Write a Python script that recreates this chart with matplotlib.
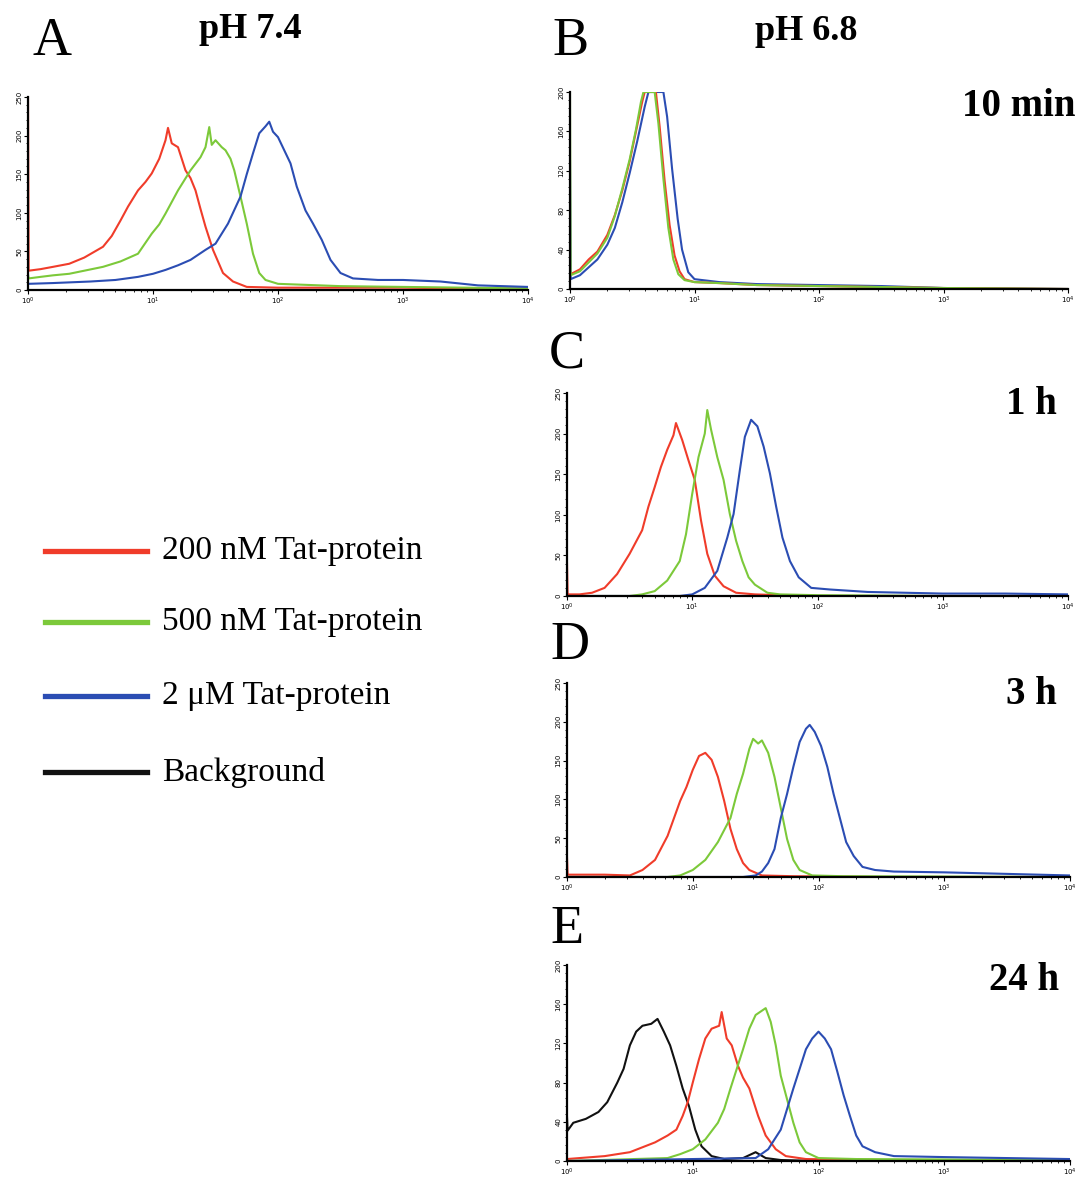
import numpy as np
import matplotlib
matplotlib.use("Agg")
import matplotlib.pyplot as plt
from matplotlib.ticker import MultipleLocator, LogLocator, LogFormatterMathtext
from matplotlib.lines import Line2D

# Colores
rojo = "#f03c2a"
verde = "#7cc93a"
azul = "#2b4db3"
negro = "#111111"

# Panel A (pH 7.4) - x en log10
a_red_lx = [0, 0.005, 0.1, 0.2, 0.33, 0.45, 0.6, 0.67, 0.74, 0.8, 0.88, 0.94, 0.99, 1.05, 1.1, 1.12, 1.15, 1.2, 1.26, 1.3, 1.34, 1.38, 1.42, 1.48, 1.56, 1.64, 1.75, 2.0, 2.5, 3.0, 3.5, 4.0]
a_red_y = [250, 25, 27, 30, 34, 42, 56, 70, 90, 108, 129, 140, 151, 170, 194, 210, 190, 185, 155, 145, 129, 105, 82, 52, 22, 11, 4, 3, 3, 3, 2, 2]
a_green_lx = [0, 0.005, 0.1, 0.2, 0.33, 0.45, 0.6, 0.74, 0.88, 0.99, 1.05, 1.1, 1.2, 1.3, 1.38, 1.42, 1.45, 1.47, 1.5, 1.55, 1.58, 1.62, 1.65, 1.7, 1.75, 1.8, 1.85, 1.9, 2.0, 2.5, 3.0, 3.5, 4.0]
a_green_y = [20, 15, 17, 19, 21, 25, 30, 37, 47, 73, 85, 99, 129, 155, 172, 185, 211, 188, 194, 185, 181, 170, 155, 121, 86, 47, 22, 13, 8, 5, 4, 3, 2]
a_blue_lx = [0, 0.005, 0.2, 0.5, 0.7, 0.88, 1.0, 1.1, 1.2, 1.3, 1.42, 1.5, 1.6, 1.7, 1.75, 1.8, 1.85, 1.9, 1.93, 1.96, 2.0, 2.05, 2.1, 2.15, 2.22, 2.28, 2.35, 2.42, 2.5, 2.6, 2.8, 3.0, 3.3, 3.6, 4.0]
a_blue_y = [8, 8, 9, 11, 13, 17, 21, 26, 32, 39, 52, 60, 86, 121, 150, 177, 203, 212, 218, 205, 198, 181, 164, 134, 103, 86, 65, 39, 22, 15, 13, 13, 11, 6, 4]

# Panel B (10 min)
b_red_lx = [0, 0.005, 0.08, 0.15, 0.22, 0.3, 0.36, 0.42, 0.48, 0.53, 0.58, 0.6, 0.69, 0.72, 0.76, 0.8, 0.84, 0.88, 0.92, 1.0, 1.2, 1.5, 2.0, 2.5, 3.0, 4.0]
b_red_y = [15, 15, 20, 30, 38, 55, 75, 100, 130, 160, 190, 200, 200, 165, 110, 65, 34, 18, 10, 7, 6, 4, 3, 2, 1, 0]
b_green_lx = [0, 0.005, 0.08, 0.15, 0.22, 0.3, 0.36, 0.42, 0.48, 0.53, 0.57, 0.59, 0.68, 0.71, 0.75, 0.79, 0.83, 0.87, 0.92, 1.0, 1.2, 1.5, 2.0, 2.5, 3.0, 4.0]
b_green_y = [200, 14, 18, 27, 36, 52, 74, 102, 132, 162, 190, 200, 200, 168, 112, 62, 30, 15, 9, 7, 6, 4, 3, 2, 1, 0]
b_blue_lx = [0, 0.005, 0.08, 0.15, 0.22, 0.3, 0.36, 0.42, 0.48, 0.54, 0.6, 0.63, 0.75, 0.78, 0.82, 0.865, 0.9, 0.95, 1.0, 1.2, 1.5, 2.0, 2.5, 3.0, 4.0]
b_blue_y = [130, 10, 14, 22, 30, 45, 62, 88, 118, 150, 185, 200, 200, 175, 122, 71, 40, 17, 10, 7, 5, 4, 3, 1, 0]

# Panel C (1 h)
c_red_lx = [0, 0.005, 0.1, 0.2, 0.3, 0.4, 0.5, 0.6, 0.65, 0.7, 0.75, 0.8, 0.85, 0.87, 0.92, 0.97, 1.02, 1.07, 1.12, 1.18, 1.25, 1.35, 1.5, 1.7, 2.0, 3.0, 4.0]
c_red_y = [40, 2, 2, 4, 10, 27, 52, 81, 110, 134, 159, 180, 198, 213, 192, 167, 143, 93, 52, 25, 12, 4, 2, 1, 0, 0, 0]
c_green_lx = [0, 0.5, 0.6, 0.7, 0.8, 0.9, 0.95, 1.0, 1.05, 1.1, 1.12, 1.15, 1.2, 1.25, 1.3, 1.35, 1.4, 1.45, 1.5, 1.6, 1.7, 2.0, 3.0, 4.0]
c_green_y = [0, 0, 2, 6, 19, 43, 76, 126, 171, 200, 229, 205, 171, 143, 101, 68, 43, 23, 14, 4, 2, 1, 0, 0]
c_blue_lx = [0, 0.9, 1.0, 1.1, 1.2, 1.28, 1.33, 1.38, 1.42, 1.47, 1.52, 1.57, 1.62, 1.67, 1.72, 1.78, 1.85, 1.95, 2.1, 2.4, 3.0, 3.5, 4.0]
c_blue_y = [0, 0, 2, 10, 31, 72, 101, 155, 196, 217, 209, 184, 151, 110, 72, 43, 23, 10, 8, 5, 3, 3, 2]

# Panel D (3 h)
d_red_lx = [0, 0.005, 0.1, 0.3, 0.5, 0.6, 0.7, 0.8, 0.9, 0.95, 1.0, 1.05, 1.1, 1.15, 1.2, 1.25, 1.3, 1.35, 1.4, 1.45, 1.55, 1.8, 2.5, 4.0]
d_red_y = [25, 3, 3, 3, 2, 9, 22, 53, 98, 116, 138, 156, 160, 151, 129, 98, 62, 36, 18, 9, 2, 1, 0, 0]
d_green_lx = [0, 0.8, 0.9, 1.0, 1.1, 1.2, 1.3, 1.35, 1.4, 1.45, 1.48, 1.52, 1.55, 1.6, 1.65, 1.7, 1.75, 1.8, 1.85, 1.95, 2.2, 4.0]
d_green_y = [0, 0, 2, 9, 22, 45, 76, 107, 133, 165, 178, 172, 176, 160, 129, 89, 49, 22, 9, 2, 1, 0]
d_blue_lx = [0, 1.4, 1.5, 1.55, 1.6, 1.65, 1.7, 1.75, 1.8, 1.85, 1.9, 1.93, 1.97, 2.02, 2.07, 2.12, 2.17, 2.22, 2.28, 2.35, 2.45, 2.6, 3.0, 3.5, 4.0]
d_blue_y = [0, 0, 2, 7, 18, 36, 76, 107, 142, 174, 191, 196, 187, 169, 142, 107, 76, 45, 27, 13, 9, 7, 6, 4, 2]

# Panel E (24 h)
e_black_lx = [0, 0.005, 0.05, 0.15, 0.25, 0.32, 0.4, 0.45, 0.5, 0.55, 0.6, 0.67, 0.72, 0.77, 0.82, 0.87, 0.92, 0.97, 1.02, 1.07, 1.15, 1.25, 1.4, 1.5, 1.58, 1.7, 2.0, 4.0]
e_black_y = [45, 31, 39, 43, 50, 60, 80, 94, 118, 132, 138, 140, 145, 132, 118, 97, 74, 56, 32, 15, 5, 2, 3, 9, 3, 1, 0, 0]
e_red_lx = [0, 0.3, 0.5, 0.7, 0.8, 0.87, 0.92, 0.96, 1.0, 1.05, 1.1, 1.15, 1.21, 1.23, 1.27, 1.31, 1.36, 1.4, 1.45, 1.52, 1.58, 1.66, 1.74, 1.9, 2.5, 4.0]
e_red_y = [2, 5, 9, 19, 26, 32, 46, 60, 80, 104, 125, 135, 138, 152, 125, 118, 97, 85, 74, 46, 26, 12, 5, 2, 1, 0]
e_green_lx = [0, 0.8, 0.9, 1.0, 1.1, 1.2, 1.25, 1.3, 1.35, 1.4, 1.45, 1.5, 1.58, 1.62, 1.66, 1.7, 1.75, 1.8, 1.85, 1.9, 2.0, 2.3, 4.0]
e_green_y = [0, 3, 7, 12, 22, 39, 53, 74, 94, 114, 135, 149, 156, 142, 118, 87, 63, 39, 19, 9, 3, 2, 1]
e_blue_lx = [0, 1.5, 1.6, 1.7, 1.75, 1.8, 1.85, 1.9, 1.95, 2.0, 2.05, 2.1, 2.15, 2.2, 2.25, 2.3, 2.35, 2.45, 2.6, 3.0, 3.5, 4.0]
e_blue_y = [0, 3, 12, 32, 53, 74, 94, 114, 125, 132, 125, 114, 91, 67, 46, 26, 15, 9, 5, 4, 3, 2]

etiquetas = ["200 nM Tat-protein", "500 nM Tat-protein", "2 \u03bcM Tat-protein", "Background"]

fig = plt.figure(figsize=(10.86, 11.77), dpi=100)
W, H = 1086.0, 1177.0


def ejes(left, top, right, bottom, ymax, ystep, ymin_step):
    # posicion en pixeles -> fraccion de figura
    ax = fig.add_axes([left / W, 1 - bottom / H, (right - left) / W, (bottom - top) / H])
    ax.set_xscale("log")
    ax.set_xlim(1, 1e4)
    ax.set_ylim(0, ymax)
    ax.yaxis.set_major_locator(MultipleLocator(ystep))
    ax.yaxis.set_minor_locator(MultipleLocator(ymin_step))
    ax.xaxis.set_major_locator(LogLocator(base=10, numticks=10))
    ax.xaxis.set_major_formatter(LogFormatterMathtext())
    ax.xaxis.set_minor_locator(LogLocator(base=10, subs=np.arange(2, 10), numticks=20))
    for s in ["top", "right"]:
        ax.spines[s].set_visible(False)
    for s in ["left", "bottom"]:
        ax.spines[s].set_linewidth(1.6)
    ax.tick_params(which="major", length=3, width=0.8, labelsize=5, pad=1)
    ax.tick_params(which="minor", length=1.5, width=0.6)
    for t in ax.get_yticklabels():
        t.set_rotation(90)
        t.set_va("center")
    ax.set_facecolor("none")
    return ax


def curva(ax, lx, y, c):
    ax.plot(10 ** np.array(lx), y, color=c, lw=1.5, clip_on=True)


axA = ejes(28, 97, 528, 290, 250, 50, 10)
curva(axA, a_red_lx, a_red_y, rojo)
curva(axA, a_green_lx, a_green_y, verde)
curva(axA, a_blue_lx, a_blue_y, azul)

axB = ejes(570, 92, 1068, 289, 200, 40, 8)
curva(axB, b_blue_lx, b_blue_y, azul)
curva(axB, b_red_lx, b_red_y, rojo)
curva(axB, b_green_lx, b_green_y, verde)

axC = ejes(567, 393, 1068, 596, 250, 50, 10)
curva(axC, c_red_lx, c_red_y, rojo)
curva(axC, c_green_lx, c_green_y, verde)
curva(axC, c_blue_lx, c_blue_y, azul)

axD = ejes(567, 683, 1070, 877, 250, 50, 10)
curva(axD, d_red_lx, d_red_y, rojo)
curva(axD, d_green_lx, d_green_y, verde)
curva(axD, d_blue_lx, d_blue_y, azul)

axE = ejes(567, 965, 1070, 1161, 200, 40, 8)
curva(axE, e_black_lx, e_black_y, negro)
curva(axE, e_red_lx, e_red_y, rojo)
curva(axE, e_green_lx, e_green_y, verde)
curva(axE, e_blue_lx, e_blue_y, azul)

# Textos
serif = ["Liberation Serif", "DejaVu Serif"]
for letra, x, y in [("A", 52, 42), ("B", 570, 42), ("C", 567, 354), ("D", 570, 646), ("E", 567, 930)]:
    fig.text(x / W, 1 - y / H, letra, family=serif, fontsize=39, ha="center", va="center")
fig.text(250 / W, 1 - 30 / H, "pH 7.4", family=serif, fontsize=26, weight="bold", ha="center", va="center")
fig.text(806 / W, 1 - 32 / H, "pH 6.8", family=serif, fontsize=26, weight="bold", ha="center", va="center")
for txt, x, y in [("10 min", 1075, 107), ("1 h", 1057, 405), ("3 h", 1057, 695), ("24 h", 1059, 980)]:
    fig.text(x / W, 1 - y / H, txt, family=serif, fontsize=28, weight="bold", ha="right", va="center")

# Leyenda
for lab, c, y in zip(etiquetas, [rojo, verde, azul, negro], [551, 622, 696, 772]):
    fig.add_artist(Line2D([45 / W, 147 / W], [1 - y / H, 1 - y / H], color=c, lw=3.8))
    fig.text(162 / W, 1 - y / H, lab, family=serif, fontsize=24, ha="left", va="center")

plt.savefig("out.png", dpi=100)
